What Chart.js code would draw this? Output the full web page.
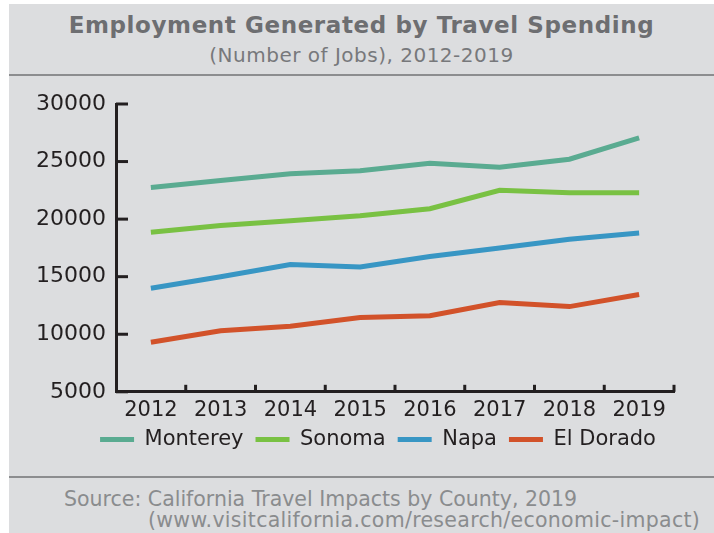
<!DOCTYPE html>
<html>
<head>
<meta charset="utf-8">
<script src="https://cdn.jsdelivr.net/npm/chart.js@4/dist/chart.umd.min.js"></script>
<style>
  body { margin: 0; width: 714px; height: 533px; background: #fff; position: relative; overflow: hidden; font-family: "DejaVu Sans", sans-serif; }
  #panel { position: absolute; left: 9px; top: 4px; width: 705px; height: 529px; background: #dcdddf; }
  #title { position: absolute; left: 9px; width: 705px; top: 12px; text-align: center; font-weight: bold; font-size: 23px; letter-spacing: 0.6px; color: #6d6e71; white-space: nowrap; }
  #sub { position: absolute; left: 9px; width: 705px; top: 43px; text-align: center; font-size: 20px; letter-spacing: 0.5px; color: #77787b; white-space: nowrap; }
  .rule { position: absolute; left: 9px; width: 705px; height: 2px; background: #8c8d8f; }
  .src { position: absolute; font-size: 20.5px; color: #8a8c8e; white-space: nowrap; }
  canvas { position: absolute; left: 0; top: 0; }
</style>
</head>
<body>
<div id="panel"></div>
<div id="title">Employment Generated by Travel Spending</div>
<div id="sub">(Number of Jobs), 2012-2019</div>
<div class="rule" style="top:74px"></div>
<div class="rule" style="top:476px"></div>
<div class="src" style="left:64px; top:487px">Source: California Travel Impacts by County, 2019</div>
<div class="src" style="left:148px; top:508px; letter-spacing:0.3px">(www.visitcalifornia.com/research/economic-impact)</div>
<canvas id="chart" width="714" height="533"></canvas>
<script>
const years = ['2012', '2013', '2014', '2015', '2016', '2017', '2018', '2019'];
const monterey = [22750, 23350, 23950, 24200, 24850, 24500, 25200, 27050];
const sonoma = [18850, 19450, 19850, 20300, 20900, 22500, 22300, 22300];
const napa = [14000, 15000, 16050, 15850, 16750, 17500, 18250, 18800];
const elDorado = [9300, 10300, 10700, 11450, 11600, 12750, 12400, 13450];
const yTicks = [5000, 10000, 15000, 20000, 25000, 30000];

const axisColor = '#231f20';

function series(label, data, color) {
    return {
        label: label,
        data: data,
        borderColor: color,
        backgroundColor: color,
        borderWidth: 5,
        tension: 0,
        pointRadius: 0,
        borderCapStyle: 'butt'
    };
}

// tick marks point inward, so draw them ourselves
const innerTicks = {
    id: 'innerTicks',
    afterLayout(chart) {
        // legend sits a little right of centre and close under the axis labels
        const lg = chart.legend;
        lg.left += 41;
        lg.right += 41;
        lg.top -= 12;
        lg.bottom -= 12;
    },
    afterDraw(chart) {
        const { ctx, chartArea: a, scales: { x, y } } = chart;
        ctx.save();
        ctx.strokeStyle = axisColor;
        ctx.lineWidth = 3;
        yTicks.forEach(v => {
            const py = y.getPixelForValue(v);
            ctx.beginPath();
            ctx.moveTo(a.left, py);
            ctx.lineTo(a.left + 12, py);
            ctx.stroke();
        });
        const half = (x.getPixelForValue(1) - x.getPixelForValue(0)) / 2;
        years.forEach((yr, i) => {
            const px = x.getPixelForValue(i) + half;
            ctx.beginPath();
            ctx.moveTo(px, a.bottom);
            ctx.lineTo(px, a.bottom - 7);
            ctx.stroke();
        });
        ctx.restore();
    }
};

new Chart(document.getElementById('chart'), {
    type: 'line',
    data: {
        labels: years,
        datasets: [
            series('Monterey', monterey, '#5aab91'),
            series('Sonoma', sonoma, '#79c143'),
            series('Napa', napa, '#3896c4'),
            series('El Dorado', elDorado, '#d2522a')
        ]
    },
    options: {
        responsive: false,
        animation: false,
        layout: { padding: { left: 0, right: 40, top: 104, bottom: 61 } },
        plugins: {
            title: { display: false },
            tooltip: { enabled: false },
            legend: {
                position: 'bottom',
                labels: {
                    boxWidth: 34,
                    boxHeight: 5,
                    padding: 12,
                    color: axisColor,
                    font: { family: 'DejaVu Sans', size: 21 },
                    generateLabels(chart) {
                        return Chart.defaults.plugins.legend.labels.generateLabels(chart)
                            .map(l => Object.assign(l, { lineWidth: 0 }));
                    }
                }
            }
        },
        scales: {
            x: {
                offset: true,
                grid: { display: false, drawTicks: false },
                border: { display: true, color: axisColor, width: 3 },
                ticks: { color: axisColor, padding: 6, font: { family: 'DejaVu Sans', size: 21 } }
            },
            y: {
                min: 5000,
                max: 30000,
                grid: { display: false, drawTicks: false },
                border: { display: true, color: axisColor, width: 3 },
                afterBuildTicks(scale) { scale.ticks = yTicks.map(v => ({ value: v })); },
                ticks: {
                    color: axisColor,
                    padding: 10,
                    font: { family: 'DejaVu Sans', size: 22 },
                    callback: v => String(v)
                },
                afterFit(scale) { scale.width = 116; }
            }
        }
    },
    plugins: [innerTicks]
});
</script>
</body>
</html>
